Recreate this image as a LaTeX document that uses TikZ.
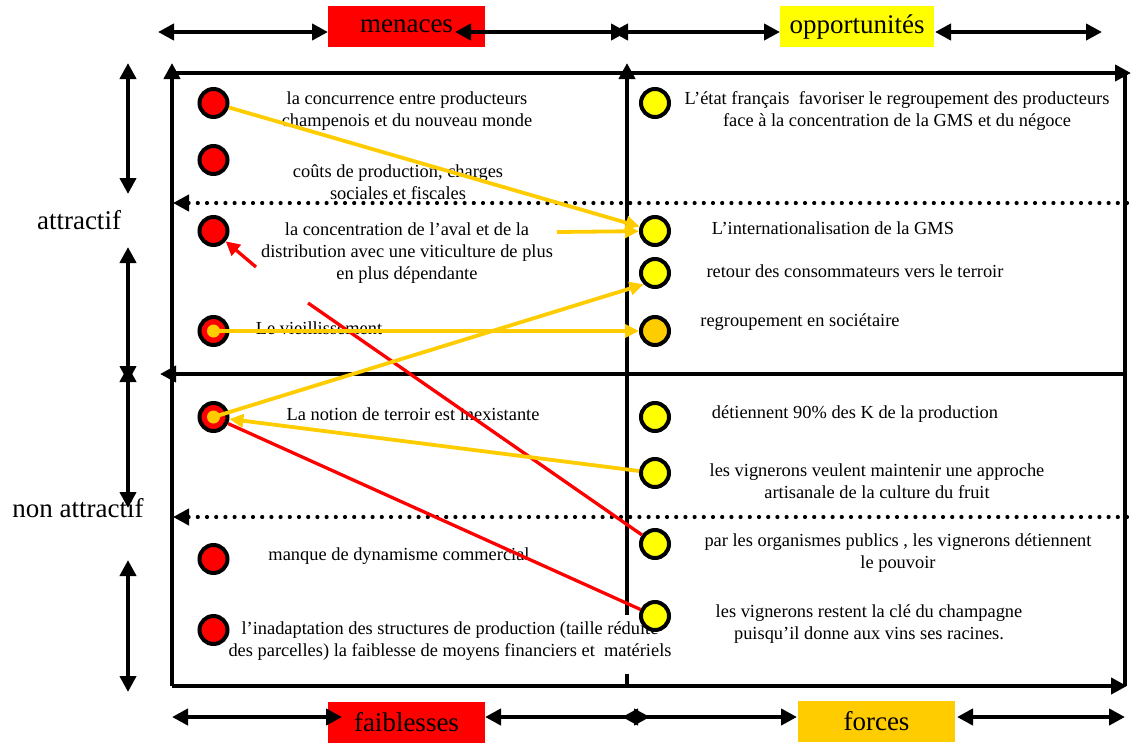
\documentclass[tikz,border=0pt]{standalone}
\usepackage{fontspec}
\setmainfont{Liberation Serif}
\usetikzlibrary{arrows.meta,positioning}
\definecolor{rouge}{HTML}{FF0000}
\definecolor{jaune}{HTML}{FFFF00}
\definecolor{ambre}{HTML}{FFCC00}

\begin{document}
\begin{tikzpicture}[x=1pt,y=-1pt,
        % Styles
        axe/.style={line width=4pt, -{Triangle[length=16pt,width=16pt]}},
        axes2/.style={line width=4pt, {Triangle[length=16pt,width=16pt]}-{Triangle[length=16pt,width=16pt]}},
        pointille/.style={line width=4.2pt, line cap=round, dash pattern=on 0pt off 9.2pt, -{Triangle[length=16pt,width=16pt]}},
        titre/.style={minimum width=157pt, minimum height=41pt, inner sep=0pt, font=\fontsize{27}{32}\selectfont},
        texte/.style={align=center, inner sep=0pt, font=\fontsize{18.4}{22}\selectfont},
        pion/.style={circle, draw, line width=4pt, minimum size=28pt, inner sep=0pt},
        menace/.style={pion, fill=rouge},
        atout/.style={pion, fill=jaune},
        lienor/.style={draw=ambre, line width=3.8pt, -{Triangle[length=14pt,width=13pt]}},
        lienrouge/.style={draw=rouge, line width=3.3pt}
    ]
        \useasboundingbox (0,0) rectangle (1133,742);

        % Cadre
        \draw[axe] (172,686) -- (172,63);
        \draw[axe] (172,73) -- (1131,73);
        \draw[line width=4pt] (1125,73) -- (1125,686);
        \draw[axe] (172,686) -- (1127,686);
        \draw[axe] (627,615) -- (627,63);
        \draw[line width=4pt] (627,674) -- (627,686);
        \draw[axe] (1127,374) -- (160,374);
        \draw[pointille] (1127,203) -- (173,203);
        \draw[pointille] (1127,517) -- (173,517);

        % Titres
        \node (menaces) [titre, fill=rouge] at (406.5,26.5) {menaces};
        \node (opport) [titre, fill=jaune, minimum width=154pt] at (857,26.5) {opportunités};
        \node (faibl) [titre, fill=rouge] at (406.5,722) {faiblesses};
        \node (forces) [titre, fill=ambre] at (876.5,721.5) {forces};
        \node (attr) [font=\fontsize{27}{32}\selectfont] at (79,220) {attractif};
        \node (nonattr) [font=\fontsize{27}{32}\selectfont] at (78,508) {non attractif};

        % Fleches des axes
        \draw[axes2] (158,32) -- (328,32);
        \draw[axes2] (455,32) -- (627,32);
        \draw[axes2] (612,32) -- (780,32);
        \draw[axes2] (935,32) -- (1102,32);
        \draw[axes2] (172,717) -- (342,717);
        \draw[axes2] (485,717) -- (650,717);
        \draw[axes2] (622,717) -- (797,717);
        \draw[axes2] (957,717) -- (1125,717);
        \draw[axes2] (128,63) -- (128,194);
        \draw[axes2] (128,247) -- (128,382);
        \draw[axes2] (128,366) -- (128,508);
        \draw[axes2] (128,560) -- (128,692);

        % Textes : menaces et faiblesses
        \node (tm1) [texte] at (407,111) {la concurrence entre producteurs\\champenois et du nouveau monde};
        \node (tm2) [texte] at (398,182) {coûts de production, charges\\sociales et fiscales};
        \node (tm3) [texte] at (407,253) {la concentration de l’aval et de la\\distribution avec une viticulture de plus\\en plus dépendante};
        \node (tm4) [texte] at (319,328) {Le vieillissement};
        \node (tf1) [texte] at (413,414) {La notion de terroir est inexistante};
        \node (tf2) [texte] at (399,556) {manque de dynamisme commercial};
        \node (tf3) [texte] at (450,641) {l’inadaptation des structures de production (taille réduite\\des parcelles) la faiblesse de moyens financiers et\ \ matériels};

        % Textes : opportunites et forces
        \node (to1) [texte] at (897,111) {L’état français\ \ favoriser le regroupement des producteurs\\face à la concentration de la GMS et du négoce};
        \node (to2) [texte] at (833,228) {L’internationalisation de la GMS};
        \node (to3) [texte] at (855,271) {retour des consommateurs vers le terroir};
        \node (to4) [texte] at (800,322) {regroupement en sociétaire};
        \node (ts1) [texte] at (855,414) {détiennent 90\% des K de la production};
        \node (ts2) [texte] at (877,481) {les vignerons veulent maintenir une approche\\artisanale de la culture du fruit};
        \node (ts3) [texte] at (898,553) {par les organismes publics , les vignerons détiennent\\le pouvoir};
        \node (ts4) [texte] at (869,624) {les vignerons restent la clé du champagne\\puisqu’il donne aux vins ses racines.};

        % Pions
        \node (m1) [menace] at (213.5,103) {};
        \node (m2) [menace] at (213.5,160) {};
        \node (m3) [menace] at (213.5,231) {};
        \node (m4) [menace] at (213.5,331) {};
        \node (f1) [menace] at (213.5,417) {};
        \node (f2) [menace] at (213.5,559) {};
        \node (f3) [menace] at (213.5,630) {};
        \node (o1) [atout] at (655,103) {};
        \node (o2) [atout] at (655,231) {};
        \node (o3) [atout] at (655,273) {};
        \node (o4) [atout, fill=ambre] at (655,331) {};
        \node (s1) [atout] at (655,417) {};
        \node (s2) [atout] at (655,473) {};
        \node (s3) [atout] at (655,544) {};
        \node (s4) [atout] at (655,616) {};

        % Liens
        \coordinate (depart) at (557,232);
        \coordinate (fleche) at (256,267);
        \coordinate (coupe) at (308,303);
        \draw[lienor] (m1) -- (o2);
        \draw[lienor] (depart) -- (o2);
        \draw[lienrouge, -{Triangle[length=14pt,width=14pt]}] (fleche) -- (m3);
        \draw[lienrouge] (coupe) -- (s3);
        \draw[lienor] (m4.center) -- (o4);
        \draw[lienor] (f1.center) -- (o3.south west);
        \draw[lienor] (s2) -- (f1);
        \draw[lienrouge] (s4) -- (f1);
        \fill[ambre] (m4.center) circle (6.5pt);
        \fill[ambre] (f1.center) circle (6.5pt);

    \end{tikzpicture}
\end{document}
